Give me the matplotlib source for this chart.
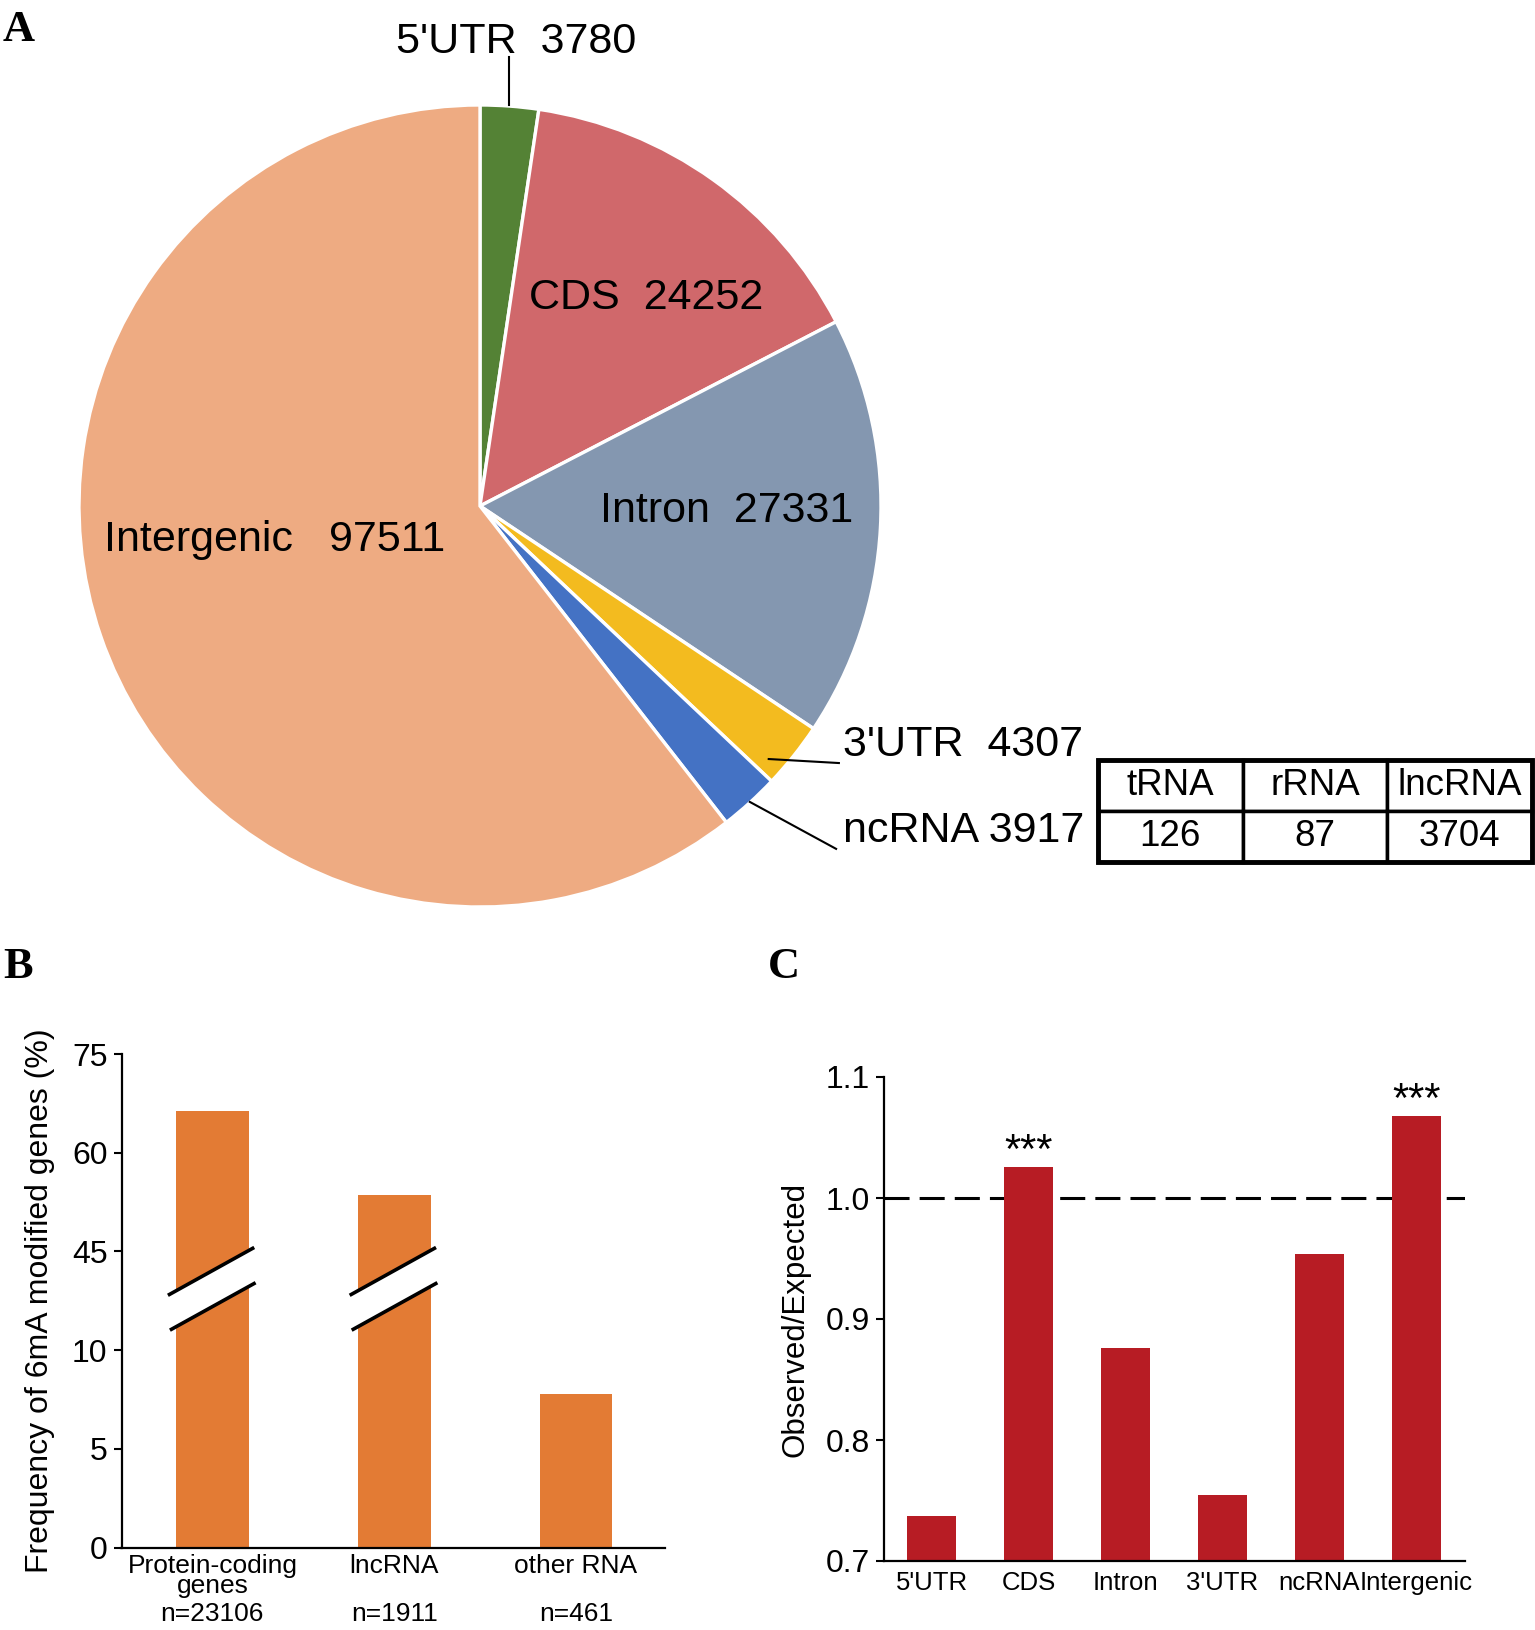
import numpy as np
import matplotlib
matplotlib.use("Agg")
import matplotlib.pyplot as plt

plt.rcParams['font.family'] = ['Liberation Sans', 'DejaVu Sans']

# panel A - pie
pie_labels = ["5'UTR", "CDS", "Intron", "3'UTR", "ncRNA", "Intergenic"]
pie_values = [3780, 24252, 27331, 4307, 3917, 97511]
pie_colors = ['#548235', '#D0686B', '#8497B0', '#F3BB1F', '#4472C4', '#EEAB82']

# ncRNA breakdown table
tab_header = ['tRNA', 'rRNA', 'lncRNA']
tab_values = [126, 87, 3704]

# panel B
b_cats = ['Protein-coding\ngenes', 'lncRNA', 'other RNA']
b_n = ['n=23106', 'n=1911', 'n=461']
b_values = [66.4, 53.5, 7.8]
b_ticks = [0, 5, 10, 45, 60, 75]

# panel C
c_cats = ["5'UTR", 'CDS', 'Intron', "3'UTR", 'ncRNA', 'Intergenic']
c_values = [0.737, 1.026, 0.876, 0.7545, 0.954, 1.068]
c_sig = ['', '***', '', '', '', '***']

W, H = 1535, 1630
fig = plt.figure(figsize=(W/100, H/100), dpi=100)

def px_axes(x0, y0, x1, y1):
    return fig.add_axes([x0/W, 1-y1/H, (x1-x0)/W, (y1-y0)/H])

# ---- A ----
R = 401
cx, cy = 480, 506
k = 1.15
axA = px_axes(cx-k*R, cy-k*R, cx+k*R, cy+k*R)
axA.pie(pie_values, colors=pie_colors, startangle=90, counterclock=False,
        radius=1, wedgeprops=dict(edgecolor='white', linewidth=2.4))
axA.set_xlim(-k, k)
axA.set_ylim(-k, k)
axA.set_aspect('equal')
axA.axis('off')

fs_pie = 31
axA.text(0.09, 1.158, "5'UTR  3780", fontsize=fs_pie, ha='center', va='center')
axA.plot([0.072, 0.072], [1.0, 1.12], color='black', lw=1.5)
axA.text(0.414, 0.519, "CDS  24252", fontsize=fs_pie, ha='center', va='center')
axA.text(0.616, -0.012, "Intron  27331", fontsize=fs_pie, ha='center', va='center')
axA.text(-0.511, -0.085, "Intergenic   97511", fontsize=fs_pie, ha='center', va='center')
axA.text(0.905, -0.596, "3'UTR  4307", fontsize=fs_pie, ha='left', va='center')
axA.plot([0.72, 0.895], [-0.631, -0.641], color='black', lw=1.5)
axA.text(0.905, -0.81, "ncRNA 3917", fontsize=fs_pie, ha='left', va='center')
axA.plot([0.673, 0.888], [-0.738, -0.855], color='black', lw=1.5)

# table
axT = px_axes(1098, 760, 1532, 862)
axT.axis('off')
tbl = axT.table(cellText=[tab_header, [str(v) for v in tab_values]],
                cellLoc='center', bbox=[0, 0, 1, 1])
tbl.auto_set_font_size(False)
for (r, c), cell in tbl.get_celld().items():
    cell.set_linewidth(2.5)
    cell.get_text().set_fontsize(26.5)
axT.add_patch(plt.Rectangle((0, 0), 1, 1, transform=axT.transAxes, fill=False,
                            lw=3.5, edgecolor='black', clip_on=False))

# ---- B ----
def fwd(y):
    return np.interp(y, [0, 10, 45, 75], [0, 2, 3, 5])

def inv(p):
    return np.interp(p, [0, 2, 3, 5], [0, 10, 45, 75])

axB = px_axes(121.5, 1054, 665, 1547.5)
axB.set_yscale('function', functions=(fwd, inv))
xb = np.arange(len(b_values))
axB.bar(xb, b_values, width=0.40, color='#E37B34')
axB.set_ylim(0, 75)
axB.set_xlim(-0.5, 2.49)
axB.set_yticks(b_ticks)
axB.set_yticklabels([str(t) for t in b_ticks])
axB.set_xticks(xb)
axB.set_xticklabels(b_cats, fontsize=19, linespacing=0.78)
axB.tick_params(axis='x', length=0, pad=5)
axB.tick_params(axis='y', labelsize=23, length=6, width=1.5, pad=4)
axB.spines[['top', 'right']].set_visible(False)
axB.spines[['left', 'bottom']].set_linewidth(1.6)
axB.set_ylabel('Frequency of 6mA modified genes (%)', fontsize=23, labelpad=12)
for i, n in enumerate(b_n):
    axB.annotate(n, xy=(i, 0), xycoords=('data', 'axes fraction'),
                 xytext=(0, -48), textcoords='offset points',
                 ha='center', va='center', fontsize=19)

# axis break marks on the first two bars
for i in range(2):
    top = [(i-0.236, inv(2.564)), (i+0.2215, inv(3.031))]
    bot = [(i-0.225, inv(2.211)), (i+0.229, inv(2.674))]
    poly = [top[0], top[1], bot[1], bot[0]]
    axB.add_patch(plt.Polygon(poly, closed=True, facecolor='white',
                              edgecolor='none', zorder=3, clip_on=False))
    axB.plot([p[0] for p in top], [p[1] for p in top], color='black',
             lw=2.6, zorder=4, clip_on=False)
    axB.plot([p[0] for p in bot], [p[1] for p in bot], color='black',
             lw=2.6, zorder=4, clip_on=False)

# ---- C ----
axC = px_axes(884, 1077, 1465, 1561)
xc = np.arange(len(c_values))
axC.axhline(1.0, color='black', lw=2.2, linestyle=(0, (8.2, 3.3)), zorder=1)
bars = axC.bar(xc, c_values, width=0.51, color='#B71C24', zorder=2)
for i, s in enumerate(c_sig):
    if s:
        axC.annotate(s, xy=(i, c_values[i]), xytext=(0, -4),
                     textcoords='offset points', ha='center', va='bottom',
                     fontsize=30)
axC.set_ylim(0.7, 1.1)
axC.set_xlim(-0.49, 5.5)
axC.set_yticks([0.7, 0.8, 0.9, 1.0, 1.1])
axC.set_yticklabels(['0.7', '0.8', '0.9', '1.0', '1.1'])
axC.set_xticks(xc)
axC.set_xticklabels(c_cats, fontsize=18.5)
axC.tick_params(axis='x', length=0, pad=7)
axC.tick_params(axis='y', labelsize=23, length=6, width=1.5, pad=4)
axC.spines[['top', 'right']].set_visible(False)
axC.spines[['left', 'bottom']].set_linewidth(1.6)
axC.set_ylabel('Observed/Expected', fontsize=22.5, labelpad=11)

# panel letters
for letter, x, y in [('A', 3, 41), ('B', 3, 978), ('C', 768, 978)]:
    fig.text(x/W, 1-y/H, letter, fontsize=32, fontweight='bold',
             family='Liberation Serif', ha='left', va='baseline')

fig.savefig('out.png', dpi=100)
